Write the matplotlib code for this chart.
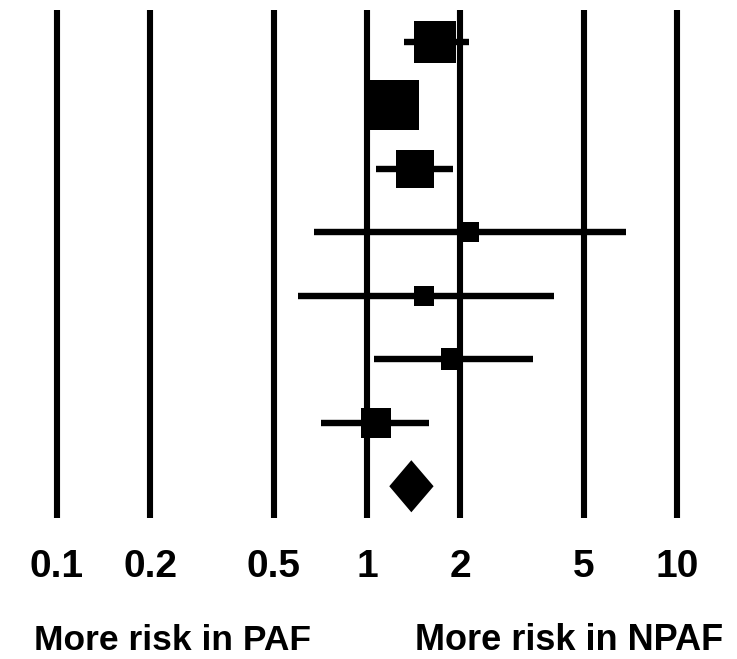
import matplotlib
matplotlib.use("Agg")
import matplotlib.pyplot as plt
import numpy as np

# Study-level odds ratios (NPAF vs PAF) with 95% CI and weights (%)
estimates = [1.66, 1.22, 1.43, 2.13, 1.53, 1.88, 1.07]
ci_low = [1.32, 1.08, 1.07, 0.675, 0.60, 1.05, 0.71]
ci_high = [2.13, 1.38, 1.89, 6.85, 4.01, 3.43, 1.58]
weights = [22.3, 32.9, 18.3, 5.1, 5.1, 5.6, 10.7]

# Pooled estimate
pooled = 1.39
pooled_low = 1.18
pooled_high = 1.64

tick_values = [0.1, 0.2, 0.5, 1, 2, 5, 10]
tick_labels = ["0.1", "0.2", "0.5", "1", "2", "5", "10"]
side_labels = ["More risk in PAF", "More risk in NPAF"]

W, H = 737, 659
fig = plt.figure(figsize=(W / 100, H / 100), dpi=100)
ax = fig.add_axes([57 / W, (H - 518) / H, (677 - 57) / W, (518 - 10) / H])
ax.set_xscale("log")
ax.set_xlim(0.1, 10)
n = len(estimates)
ax.set_ylim(n + 1.5, 0.5)
ax.axis("off")

# Reference lines at each tick value
for v in tick_values:
    ax.axvline(v, color="black", lw=4.4, solid_capstyle="butt", clip_on=False, zorder=1)

rows = np.arange(1, n + 1)
for r, est, lo, hi, w in zip(rows, estimates, ci_low, ci_high, weights):
    ax.plot([lo, hi], [r, r], color="black", lw=4.6, solid_capstyle="butt", zorder=2)
    ax.plot([est], [r], marker="s", color="black", markersize=6.4 * np.sqrt(w),
            markeredgewidth=0, zorder=3)

# Pooled diamond
dr = n + 1
half_h = 0.41
ax.fill([pooled_low, pooled, pooled_high, pooled],
        [dr, dr - half_h, dr, dr + half_h], color="black", lw=0, zorder=3)

font = dict(family=["Liberation Sans", "DejaVu Sans"], weight="bold", color="black")
for v, lab in zip(tick_values, tick_labels):
    fig.text((57 + (np.log10(v) + 1) * 310) / W, 1 - 567 / H, lab,
             ha="center", va="center", fontsize=28, **font)

fig.text(172 / W, 1 - 641 / H, side_labels[0], ha="center", va="center", fontsize=25.5, **font)
fig.text(569 / W, 1 - 641 / H, side_labels[1], ha="center", va="center", fontsize=26, **font)

fig.savefig("out.png", dpi=100, facecolor="white")
